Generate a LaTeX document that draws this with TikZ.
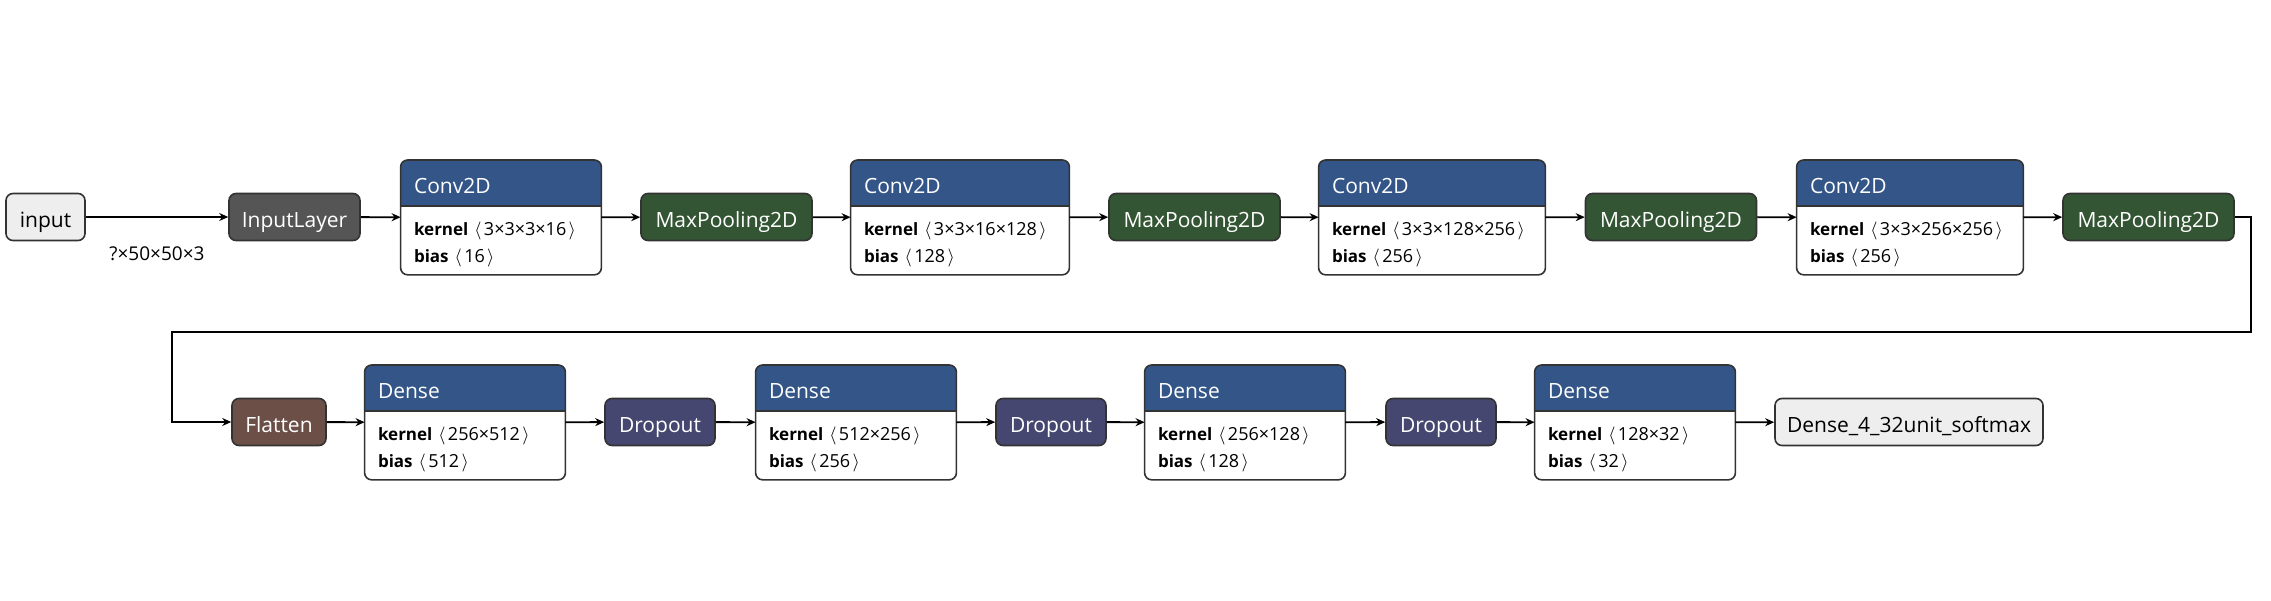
\documentclass[tikz,border=0pt]{standalone}
\usepackage{fontspec}
\setmainfont{Open Sans}
\usepackage{tikz}
\usetikzlibrary{arrows.meta}
\definecolor{layerblue}{HTML}{335588}
\definecolor{poolgreen}{HTML}{335533}
\definecolor{dropviolet}{HTML}{454770}
\definecolor{flatbrown}{HTML}{6C4F47}
\definecolor{inputgrey}{HTML}{555555}
\definecolor{ioface}{HTML}{EEEEEE}
\definecolor{edgegrey}{HTML}{333333}

\begin{document}
\begin{tikzpicture}[x=1pt,y=-1pt,
  opnode/.style={shape=rectangle,draw=edgegrey,line width=0.8pt,rounded corners=3.5pt,
    minimum height=23.5pt,inner sep=0pt,text height=10.2pt,text depth=0pt,
    text=white,font=\fontsize{10.5}{12}\selectfont},
  ionode/.style={opnode,fill=ioface,text=black},
  inputnode/.style={opnode,fill=inputgrey},
  poolnode/.style={opnode,fill=poolgreen},
  dropnode/.style={opnode,fill=dropviolet},
  flatnode/.style={opnode,fill=flatbrown},
  layerbox/.style={shape=rectangle,minimum height=57pt,inner sep=0pt,anchor=north},
  layertitle/.style={anchor=base west,inner sep=0pt,text=white,font=\fontsize{10.5}{12}\selectfont},
  attr/.style={anchor=base west,inner sep=0pt,font=\fontsize{8.5}{10}\selectfont},
  wire/.style={-{Stealth[length=4.5pt,width=4pt]},line width=0.9pt}]
\useasboundingbox (0,0) rectangle (1135.5,300);
\path
(22.75,108.5) node [ionode,minimum width=39.5pt](in) {input}
(147.25,108.5) node [inputnode,minimum width=65.5pt](inl) {InputLayer}
(363.25,108.5) node [poolnode,minimum width=85.5pt](poola) {MaxPooling2D}
(597.25,108.5) node [poolnode,minimum width=85.5pt](poolb) {MaxPooling2D}
(835.5,108.5) node [poolnode,minimum width=85.5pt](poolc) {MaxPooling2D}
(1074.25,108.5) node [poolnode,minimum width=85.5pt](poold) {MaxPooling2D}
(139.5,211) node [flatnode,minimum width=47pt](flat) {Flatten}
(330,211) node [dropnode,minimum width=55pt](dropa) {Dropout}
(525.5,211) node [dropnode,minimum width=55pt](dropb) {Dropout}
(720.5,211) node [dropnode,minimum width=55pt](dropc) {Dropout}
(954.5,211) node [ionode,minimum width=134pt](out) {Dense\_4\_32unit\_softmax};

% layers with weights
\foreach \nm/\cx/\bw/\tp/\ttl/\kr/\bv in {
  conva/250.5/100/80/Conv2D/3×3×3×16/16,
  convb/480/109/80/Conv2D/3×3×16×128/128,
  convc/716/113/80/Conv2D/3×3×128×256/256,
  convd/955/113/80/Conv2D/3×3×256×256/256,
  densea/232.5/100/182.5/Dense/256×512/512,
  denseb/428/100/182.5/Dense/512×256/256,
  densec/622.5/100/182.5/Dense/256×128/128,
  densed/817.5/100/182.5/Dense/128×32/32}
{
  \node [layerbox,minimum width=\bw pt](\nm) at (\cx,\tp) {};
  \begin{scope}
    \clip [rounded corners=3.5pt] (\nm.south west) rectangle (\nm.north east);
    \fill [white] (\nm.south west) rectangle (\nm.north east);
    \fill [layerblue] (\nm.north west) rectangle ([yshift=-23pt]\nm.north east);
  \end{scope}
  \draw [edgegrey,line width=0.8pt,rounded corners=3.5pt] (\nm.south west) rectangle (\nm.north east);
  \draw [edgegrey,line width=0.6pt] ([yshift=-23pt]\nm.north west) -- ([yshift=-23pt]\nm.north east);
  \node [layertitle] at ([xshift=6.5pt,yshift=-16.7pt]\nm.north west) {\ttl};
  \node [attr] at ([xshift=6.5pt,yshift=-37.5pt]\nm.north west)
    {\textbf{kernel}\hspace{3pt}{\fontsize{9}{10}\selectfont$\langle$\hspace{1.2pt}\kr\hspace{1.2pt}$\rangle$}};
  \node [attr] at ([xshift=6.5pt,yshift=-51.3pt]\nm.north west)
    {\textbf{bias}\hspace{3pt}{\fontsize{9}{10}\selectfont$\langle$\hspace{1.2pt}\bv\hspace{1.2pt}$\rangle$}};
}

\draw [wire](in) -- node [below=11pt,font=\fontsize{9.5}{10}\selectfont] {?×50×50×3} (inl);
\foreach \a/\b in {inl/conva,conva/poola,poola/convb,convb/poolb,poolb/convc,
  convc/poolc,poolc/convd,convd/poold,flat/densea,densea/dropa,dropa/denseb,
  denseb/dropb,dropb/densec,densec/dropc,dropc/densed,densed/out}
  \draw [wire](\a) -- (\b);

% wrap to the second row
\coordinate (bendr) at (1125.5,166);
\coordinate (bendl) at (86,166);
\draw [wire](poold.east) -| (bendr) -- (bendl) |- (flat.west);

\end{tikzpicture}
\end{document}
